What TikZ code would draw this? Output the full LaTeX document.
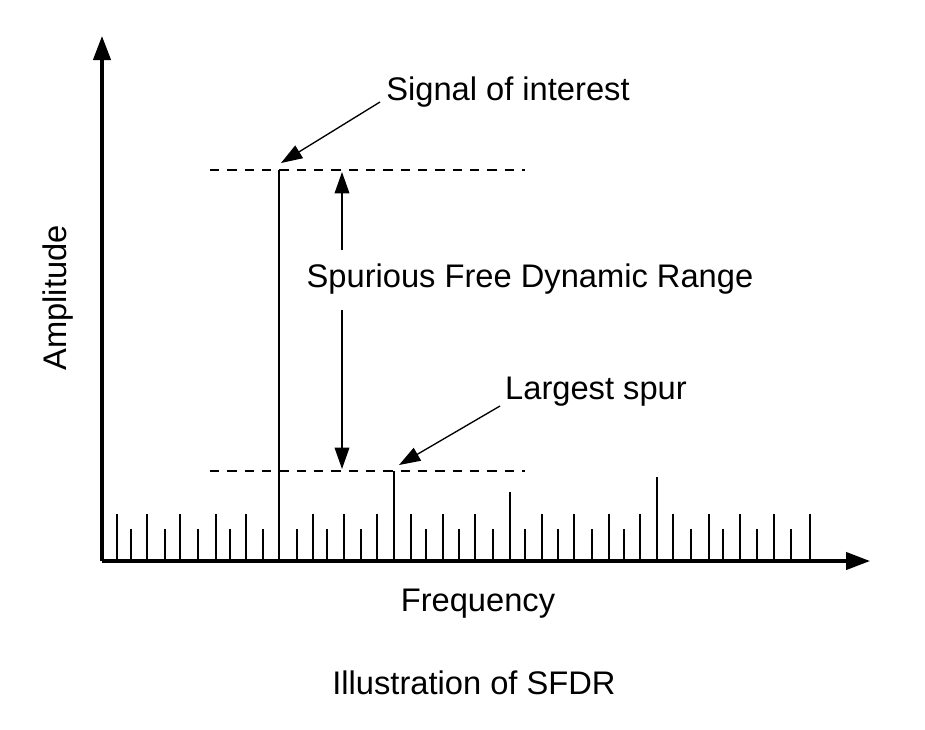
\documentclass[tikz,border=0pt]{standalone}
\usepackage{fontspec}
\setmainfont{Liberation Sans}
\usetikzlibrary{positioning,arrows.meta}
\tikzset {
    axis line/.style={
        line width=2.4pt,
        -{Triangle[length=18pt,width=13pt]},
    },
    note arrow/.style={
        line width=1pt,
        -{Triangle[length=16pt,width=11pt]},
    },
    level line/.style={
        dashed, dash pattern=on 7pt off 6pt,
        line width=0.9pt,
    },
    spur/.style={
        line width=1pt,
    },
    label text/.style={
        font=\fontsize{24.5}{28}\selectfont,
        inner sep=1pt,
    },
}
\begin{document}
\begin{tikzpicture}[x=0.75pt,y=-0.75pt]
    \useasboundingbox (0,0) rectangle (925,729);

    % axes
    \coordinate (origin) at (102,561);
    \coordinate (ytop) at (102,36);
    \coordinate (xend) at (870,561);
    \draw[axis line] (origin) -- (ytop);
    \draw[axis line] (origin) -- (xend);

    % noise floor
    \foreach \x in {117,147,180,216,246,313,344,377,411,443,475,542,574,609,640,673,709,740,774,810}
        \draw[spur] (\x,561) -- (\x,514);
    \foreach \x in {131,165,198,230,263,297,327,361,426,459,493,525,558,592,624,691,723,757,791}
        \draw[spur] (\x,561) -- (\x,529);
    \draw[spur] (510,561) -- (510,492);
    \draw[spur] (657,561) -- (657,477);

    % signal and largest spur
    \coordinate (sigtop) at (279,170);
    \coordinate (spurtop) at (394,471);
    \draw[spur] (279,561) -- (sigtop);
    \draw[spur] (394,561) -- (spurtop);

    % levels
    \coordinate (sigL) at (210,170);
    \coordinate (sigR) at (525,170);
    \coordinate (spurL) at (210,471);
    \coordinate (spurR) at (525,471);
    \draw[level line] (sigL) -- (sigR);
    \draw[level line] (spurL) -- (spurR);

    % labels
    \node[label text] (sfdr) at (530,279) {Spurious Free Dynamic Range};
    \node[label text] (sig) at (508,92) {Signal of interest};
    \node[label text] (lspur) at (596,392) {Largest spur};
    \node[label text, rotate=90] (amp) at (58,298) {Amplitude};
    \node[label text] (freq) at (478,604) {Frequency};
    \node[label text] (title) at (474,683) {Illustration of SFDR};

    \coordinate (rangetop) at (342,172);
    \coordinate (rangebot) at (342,469);
    \coordinate (sigfoot) at (380,102);
    \coordinate (spurfoot) at (500,406);
    \draw[note arrow] (342,250) -- (rangetop);
    \draw[note arrow] (342,310) -- (rangebot);
    \draw[note arrow] (sigfoot) -- (281,163);
    \draw[note arrow] (spurfoot) -- (399,465);
\end{tikzpicture}
\end{document}
